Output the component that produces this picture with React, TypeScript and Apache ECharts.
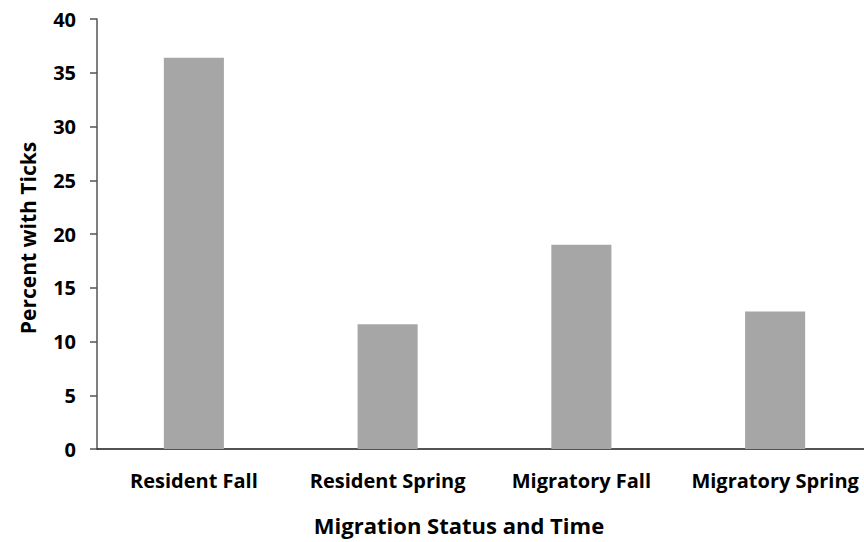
import React, { useEffect, useRef } from "react";
import * as echarts from "echarts";

const categories = ["Resident Fall", "Resident Spring", "Migratory Fall", "Migratory Spring"];
const percentWithTicks = [36.4, 11.6, 19.0, 12.8];
const yTicks = { min: 0, max: 40, interval: 5 };
const xTitle = "Migration Status and Time";
const yTitle = "Percent with Ticks";

const FONT = "'Open Sans', 'Liberation Sans', sans-serif";

export default function App() {
  const ref = useRef<HTMLDivElement>(null);
  useEffect(() => {
    if (!ref.current) return;
    const chart = echarts.init(ref.current, undefined, { renderer: "svg" });
    chart.setOption({
      animation: false,
      backgroundColor: "#ffffff",
      grid: { left: 97, width: 775, top: 19, bottom: 93, containLabel: false, outerBoundsMode: "none" },
      graphic: [
        {
          type: "text",
          x: 459,
          y: 525,
          style: {
            text: xTitle,
            fontFamily: FONT,
            fontWeight: "bold",
            fontSize: 22,
            fill: "#000",
            align: "center",
            verticalAlign: "middle",
          },
        },
        {
          type: "text",
          x: 28,
          y: 238,
          rotation: Math.PI / 2,
          style: {
            text: yTitle,
            fontFamily: FONT,
            fontWeight: "bold",
            fontSize: 21,
            fill: "#000",
            align: "center",
            verticalAlign: "middle",
          },
        },
      ],
      xAxis: {
        type: "category",
        data: categories,
        axisLine: { lineStyle: { color: "#1a1a1a", width: 1.5 } },
        axisTick: { show: false },
        axisLabel: {
          margin: 21,
          fontFamily: FONT,
          fontWeight: "bold",
          fontSize: 20,
          color: "#000",
          interval: 0,
        },
      },
      yAxis: {
        type: "value",
        min: yTicks.min,
        max: yTicks.max,
        interval: yTicks.interval,
        axisLine: { show: true, lineStyle: { color: "#555555", width: 1.5 } },
        axisTick: { show: true, length: 7, lineStyle: { color: "#555555", width: 1.5 } },
        splitLine: { show: false },
        axisLabel: {
          margin: 21,
          fontFamily: FONT,
          fontWeight: "bold",
          fontSize: 20,
          color: "#000",
        },
      },
      series: [
        {
          type: "bar",
          data: percentWithTicks,
          barWidth: "31%",
          itemStyle: { color: "#a6a6a6" },
        },
      ],
    });
    return () => chart.dispose();
  }, []);
  return <div ref={ref} style={{ width: 864, height: 542, position: "absolute", left: 0, top: 0 }} />;
}
